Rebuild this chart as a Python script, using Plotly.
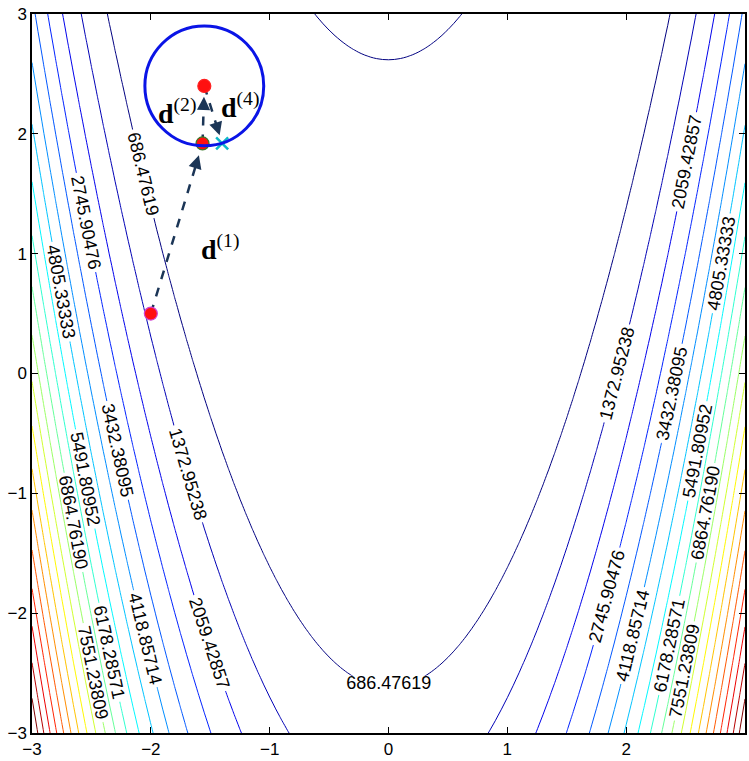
import numpy as np
import plotly.graph_objects as go

# Rosenbrock surface f(x, y) = 100 (y - x^2)^2 + (1 - x)^2 on [-3, 3] x [-3, 3]
x_grid = np.linspace(-3, 3, 121)
y_grid = np.linspace(-3, 3, 121)
X, Y = np.meshgrid(x_grid, y_grid)
Z = 100.0 * (Y - X ** 2) ** 2 + (1.0 - X) ** 2

# 20 evenly spaced contour levels
level_step = 686.47619
n_levels = 20

# iterates of the trust-region steps
iter_x = [-2.0, -1.565, -1.55]
iter_y = [0.5, 1.92, 2.40]
iter_edge = ["#d040d0", "#3a7a2a", "#ff2020"]

# candidate point on the trust-region boundary
cand_x = [-1.40]
cand_y = [1.92]

# trust region around the last iterate
region_center = (-1.55, 2.40)
region_radius = 0.5

# step vectors: start point, end point, label, label position, where the head stops
steps = [
    ((iter_x[0], iter_y[0]), (iter_x[1], iter_y[1]), "(1)", (-1.42, 1.05), 0.93),
    ((iter_x[1], iter_y[1]), (iter_x[2], iter_y[2]), "(2)", (-1.78, 2.19), 0.81),
    ((iter_x[2], iter_y[2]), (cand_x[0], cand_y[0]), "(4)", (-1.25, 2.24), 0.86),
]

jet = [
    [0.0, "rgb(0,0,128)"],
    [0.125, "rgb(0,0,255)"],
    [0.375, "rgb(0,255,255)"],
    [0.625, "rgb(255,255,0)"],
    [0.875, "rgb(255,0,0)"],
    [1.0, "rgb(128,0,0)"],
]

fig = go.Figure()

fig.add_trace(go.Contour(
    x=x_grid, y=y_grid, z=Z,
    autocontour=False,
    contours=dict(
        start=level_step,
        end=level_step * n_levels + 1e-3,
        size=level_step,
        coloring="lines",
        showlabels=True,
        labelformat=".5f",
        labelfont=dict(family="Liberation Sans, Arial", size=18, color="black"),
    ),
    colorscale=jet,
    line=dict(width=1, smoothing=1),
    showscale=False,
    hoverinfo="skip",
))

# trust-region circle
cx, cy = region_center
fig.add_shape(
    type="circle", xref="x", yref="y",
    x0=cx - region_radius, x1=cx + region_radius,
    y0=cy - region_radius, y1=cy + region_radius,
    line=dict(color="#0a14e6", width=3),
)

# dashed step segments with arrowheads
dash_color = "#1b3556"
for (sx, sy), (ex, ey), label, (lx, ly), frac in steps:
    dx, dy = ex - sx, ey - sy
    L = np.hypot(dx, dy)
    ux, uy = dx / L, dy / L
    tip_x, tip_y = sx + dx * frac, sy + dy * frac
    fig.add_trace(go.Scatter(
        x=[sx, tip_x - ux * 0.08], y=[sy, tip_y - uy * 0.08],
        mode="lines",
        line=dict(color=dash_color, width=2.5, dash="dash"),
        hoverinfo="skip", showlegend=False,
    ))
    # short solid shaft hidden under the head; offsets in pixels
    fig.add_annotation(
        x=tip_x, y=tip_y, ax=-ux * 14, ay=uy * 14,
        xref="x", yref="y",
        showarrow=True, arrowhead=2, arrowsize=1.2, arrowwidth=2.2,
        arrowcolor=dash_color, text="",
    )
    fig.add_annotation(
        x=lx, y=ly, xref="x", yref="y", showarrow=False,
        text="<b>d</b><sup>" + label + "</sup>",
        font=dict(family="Liberation Serif, Times New Roman", size=28, color="black"),
    )

# iterates
fig.add_trace(go.Scatter(
    x=iter_x, y=iter_y, mode="markers",
    marker=dict(size=13, color="#ff1010", line=dict(color=iter_edge, width=1.2)),
    hoverinfo="skip", showlegend=False,
))

# candidate point
fig.add_trace(go.Scatter(
    x=cand_x, y=cand_y, mode="markers",
    marker=dict(symbol="x-thin", size=12, line=dict(color="#10b8c8", width=2.5)),
    hoverinfo="skip", showlegend=False,
))

axis_common = dict(
    range=[-3, 3], dtick=1, tick0=-3,
    showgrid=False, zeroline=False,
    showline=True, linecolor="black", linewidth=1.5, mirror="ticks",
    ticks="inside", ticklen=6, tickcolor="black",
    tickfont=dict(family="Liberation Sans, Arial", size=17, color="black"),
)

fig.update_layout(
    width=749, height=761,
    margin=dict(l=32, r=2, t=14, b=28),
    paper_bgcolor="white", plot_bgcolor="white",
    xaxis=dict(**axis_common),
    yaxis=dict(**axis_common),
    showlegend=False,
)

fig.write_html("out.html")
